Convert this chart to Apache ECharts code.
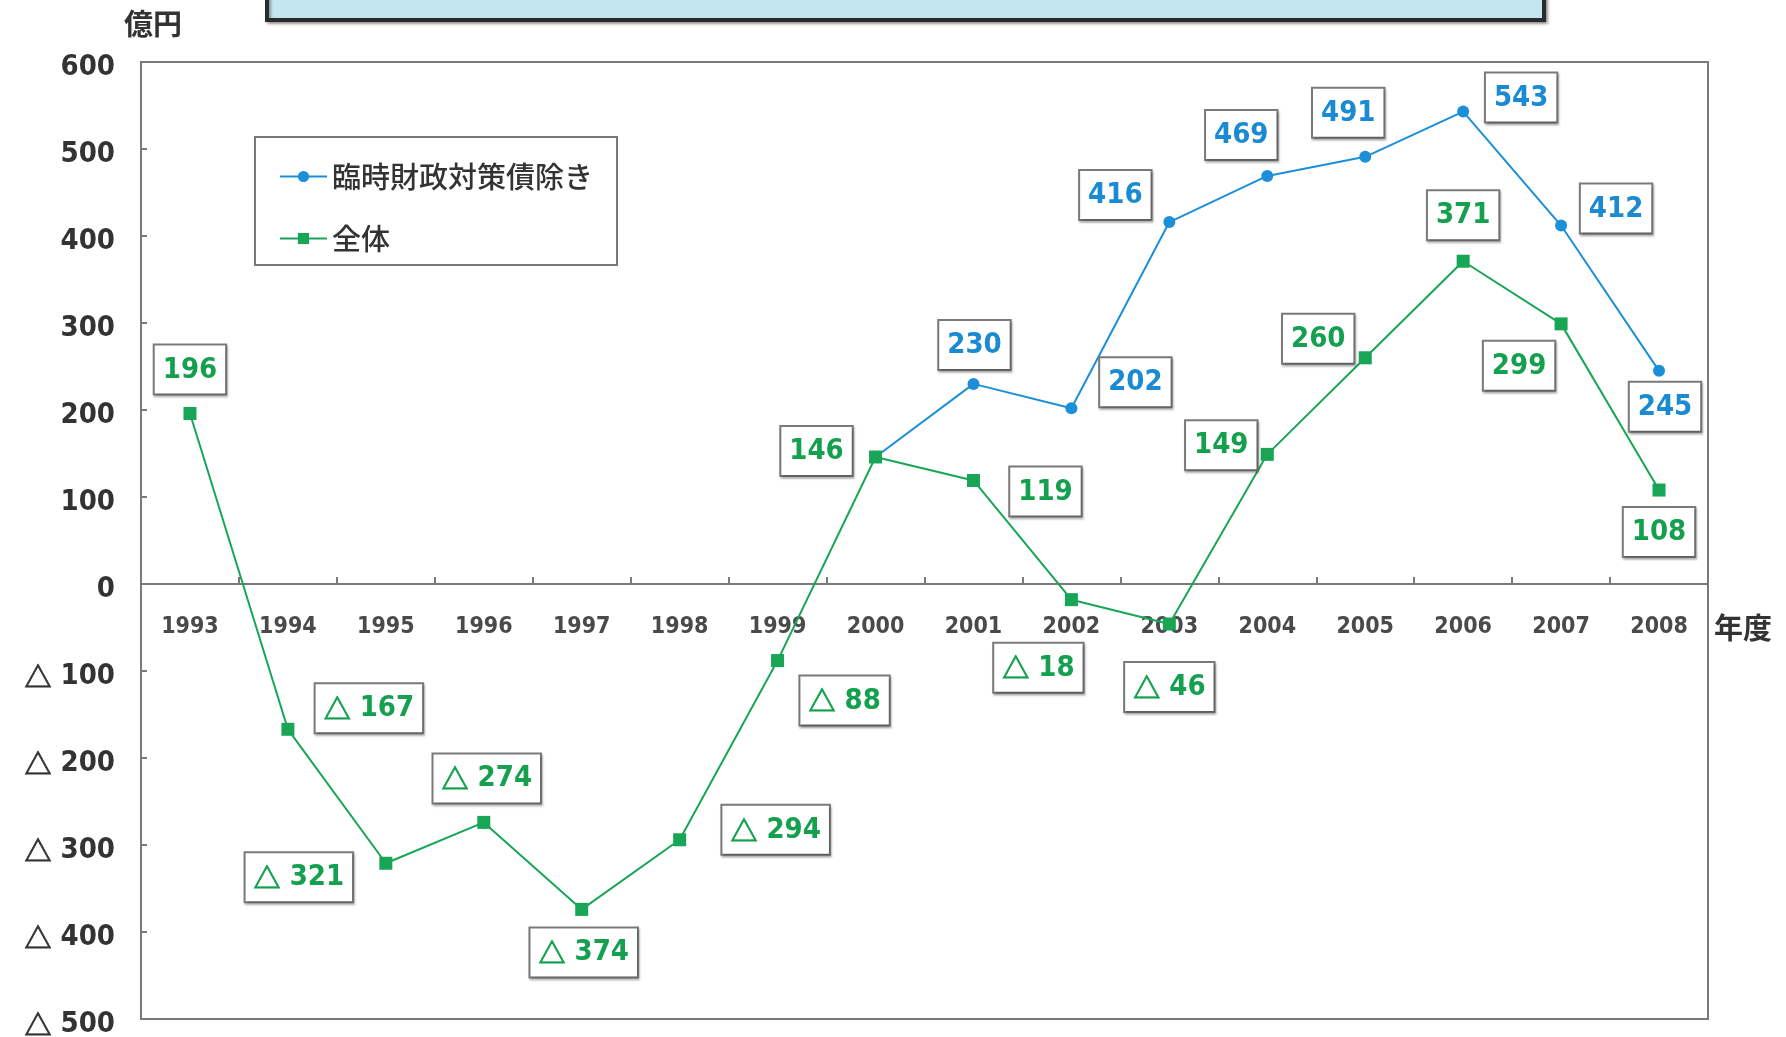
<!DOCTYPE html>
<html>
<head>
<meta charset="utf-8">
<script src="https://cdn.jsdelivr.net/npm/echarts@6/dist/echarts.min.js"></script>
<style>
  html, body { margin: 0; padding: 0; background: #fff; }
  #chart { width: 1786px; height: 1037px; }
</style>
</head>
<body>
<div id="chart"></div>
<script>
// Fiscal years on the category axis
const years = ['1993','1994','1995','1996','1997','1998','1999','2000',
               '2001','2002','2003','2004','2005','2006','2007','2008'];

// 億円 — excluding temporary fiscal countermeasure bonds (from 2000 on)
const exclBonds = [null, null, null, null, null, null, null, 146,
                   230, 202, 416, 469, 491, 543, 412, 245];

// 億円 — overall
const overall = [196, -167, -321, -274, -374, -294, -88, 146,
                 119, -18, -46, 149, 260, 371, 299, 108];

// Value-axis range
const yTicks = { min: -500, max: 600, step: 100 };

// Label placement (pixel offsets from each point; null = no label)
const exclBondsLabelOffset = [null, null, null, null, null, null, null, null,
  [1, -39], [64, -26], [-54, -27], [-26, -41], [-17, -44], [58, -14], [55, -17], [6, 36]];
const overallLabelOffset = [[0, -44], [81, -21], [-87, 14], [3, -44], [2, 43], [96, -10], [67, 40], [-59, -6],
  [72, 11], [-33, 68], [0, 63], [-46, -9], [-47, -19], [0, -46], [-42, 42], [0, 42]];

const NUM_FONT = "'DejaVu Sans Condensed', 'Liberation Sans Narrow', 'Liberation Sans', sans-serif";
const JP_FONT = "'Noto Sans CJK JP', sans-serif";
const BLUE = '#1b8fd8', BLUE_TXT = '#1a8bd2';
const GREEN = '#18a656', GREEN_TXT = '#14a04f';

// Plot frame
const GRID = { left: 141, right: 78, top: 62, bottom: 18 };
const CHART_H = 1037;

// Negative amounts are written with a leading triangle
const fmt = v => (v < 0 ? '{t|△} ' + Math.abs(v) : String(v));

const triStyle = color => ({
  fontFamily: JP_FONT, fontSize: 27, fontWeight: 'bold', color: color,
  textBorderColor: color, textBorderWidth: 0.8
});

const boxLabel = color => ({
  show: true,
  position: 'inside',
  fontFamily: NUM_FONT,
  fontSize: 29,
  fontWeight: 'bold',
  lineHeight: 31,
  color: color,
  backgroundColor: '#fff',
  borderColor: '#7a7a7a',
  borderWidth: 2,
  padding: [9, 8, 8, 8],
  shadowColor: 'rgba(0,0,0,0.25)',
  shadowOffsetX: 1,
  shadowOffsetY: 2,
  shadowBlur: 2,
  rich: { t: Object.assign(triStyle(color), { lineHeight: 31 }) },
  formatter: p => fmt(p.value)
});

function buildData(values, offsets, color) {
  return values.map((v, i) => {
    if (v === null) return '-';
    const off = offsets[i];
    if (!off) return { value: v, label: { show: false } };
    return { value: v, label: Object.assign(boxLabel(color), { offset: off }) };
  });
}

// The category axis runs along the zero line: shift it up from the frame bottom
const plotH = CHART_H - GRID.top - GRID.bottom;
const zeroFromBottom = plotH * (0 - yTicks.min) / (yTicks.max - yTicks.min);

const chart = echarts.init(document.getElementById('chart'), null, { renderer: 'canvas' });

chart.setOption({
  animation: false,
  backgroundColor: '#fff',
  textStyle: { fontFamily: NUM_FONT },
  grid: Object.assign({}, GRID, {
    containLabel: false,
    outerBoundsMode: 'none',
    show: true, borderColor: '#7a7a7a', borderWidth: 2, backgroundColor: 'transparent'
  }),
  legend: {
    orient: 'vertical',
    left: 255, top: 137,
    padding: [25, 24, 12, 24],
    itemGap: 33,
    itemWidth: 47,
    itemHeight: 14,
    borderColor: '#7a7a7a',
    borderWidth: 2,
    backgroundColor: '#fff',
    textStyle: { fontFamily: JP_FONT, fontSize: 29, color: '#333', fontWeight: 500 },
    data: ['臨時財政対策債除き', '全体']
  },
  xAxis: {
    type: 'category',
    data: years,
    boundaryGap: true,
    position: 'bottom',
    offset: -zeroFromBottom,
    axisLine: { onZero: false, lineStyle: { color: '#7a7a7a', width: 2 } },
    axisTick: { show: true, inside: true, length: 7, alignWithLabel: false, lineStyle: { color: '#7a7a7a', width: 2 } },
    axisLabel: { margin: 32, fontFamily: NUM_FONT, fontSize: 23, fontWeight: 'bold', color: '#4a4a4a' },
    splitLine: { show: false }
  },
  yAxis: {
    type: 'value',
    min: yTicks.min, max: yTicks.max, interval: yTicks.step,
    axisLine: { show: true, onZero: false, lineStyle: { color: '#7a7a7a', width: 2 } },
    axisTick: { show: true, inside: true, length: 6, lineStyle: { color: '#7a7a7a', width: 2 } },
    axisLabel: {
      margin: 26, fontFamily: NUM_FONT, fontSize: 29, fontWeight: 'bold', color: '#333',
      padding: [11, 0, 0, 0],
      rich: { t: triStyle('#333') },
      formatter: fmt
    },
    splitLine: { show: false }
  },
  series: [
    {
      name: '臨時財政対策債除き',
      type: 'line',
      data: buildData(exclBonds, exclBondsLabelOffset, BLUE_TXT),
      symbol: 'circle',
      symbolSize: 12,
      itemStyle: { color: BLUE },
      lineStyle: { color: BLUE, width: 2 },
      z: 2
    },
    {
      name: '全体',
      type: 'line',
      data: buildData(overall, overallLabelOffset, GREEN_TXT),
      symbol: 'rect',
      symbolSize: 13,
      itemStyle: { color: GREEN },
      lineStyle: { color: GREEN, width: 2 },
      z: 3
    }
  ],
  graphic: [
    {
      type: 'rect',
      shape: { x: 267, y: -20, width: 1277, height: 40 },
      style: { fill: '#c4e7ef', stroke: '#2b2b2b', lineWidth: 4,
               shadowColor: 'rgba(0,0,0,0.35)', shadowOffsetX: 2, shadowOffsetY: 2, shadowBlur: 3 },
      z: 10
    },
    {
      type: 'text',
      left: 124, top: 9,
      style: { text: '億円', font: "bold 29px " + JP_FONT, fill: '#333' }
    },
    {
      type: 'text',
      left: 1714, top: 613,
      style: { text: '年度', font: "bold 29px " + JP_FONT, fill: '#333' }
    }
  ]
});
</script>
</body>
</html>
